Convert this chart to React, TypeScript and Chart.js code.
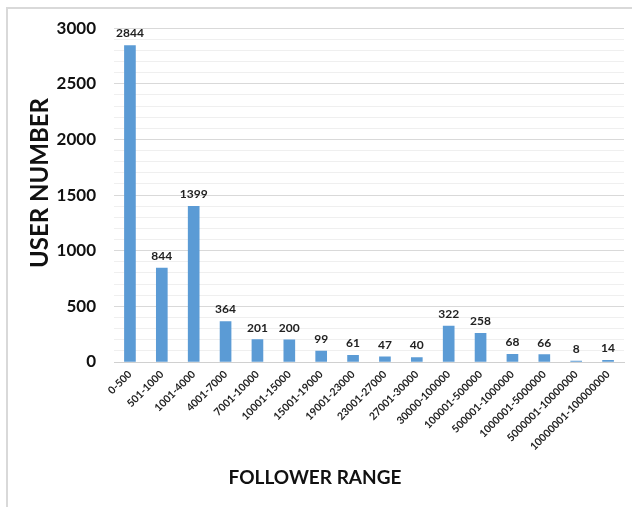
import React, { useEffect, useRef } from "react";
import { Chart, registerables } from "chart.js";

Chart.register(...registerables);

const categories = [
  "0-500", "501-1000", "1001-4000", "4001-7000", "7001-10000", "10001-15000",
  "15001-19000", "19001-23000", "23001-27000", "27001-30000", "30000-100000",
  "100001-500000", "500001-1000000", "1000001-5000000", "5000001-10000000", "10000001-100000000",
];
const userNumbers = [2844, 844, 1399, 364, 201, 200, 99, 61, 47, 40, 322, 258, 68, 66, 8, 14];
const xTitle = "FOLLOWER RANGE";
const yTitle = "USER NUMBER";

const FONT = "Lato, 'Open Sans', sans-serif";

const valueLabels = {
  id: "valueLabels",
  afterDatasetsDraw(chart: any) {
    const ctx = chart.ctx;
    const meta = chart.getDatasetMeta(0);
    ctx.save();
    ctx.font = `bold 12px ${FONT}`;
    ctx.fillStyle = "#222";
    ctx.textAlign = "center";
    ctx.textBaseline = "bottom";
    meta.data.forEach((bar: any, i: number) => {
      ctx.fillText(String(userNumbers[i]), bar.x, bar.y - 6);
    });
    ctx.restore();
  },
};

const axisTitles = {
  id: "axisTitles",
  afterDraw(chart: any) {
    const ctx = chart.ctx;
    ctx.save();
    ctx.fillStyle = "#111";
    ctx.textAlign = "center";
    ctx.textBaseline = "middle";
    ctx.font = `bold 19px ${FONT}`;
    ctx.fillText(xTitle, 315, 478);
    ctx.translate(40, 183);
    ctx.rotate(-Math.PI / 2);
    ctx.font = `bold 24px ${FONT}`;
    ctx.fillText(yTitle, 0, 0);
    ctx.restore();
  },
};

export default function App() {
  const ref = useRef<HTMLCanvasElement>(null);
  useEffect(() => {
    if (!ref.current) return;
    const chart = new Chart(ref.current, {
      type: "bar",
      data: {
        labels: categories,
        datasets: [{ data: userNumbers, backgroundColor: "#5B9BD5", barThickness: 11 }],
      },
      plugins: [valueLabels, axisTitles],
      options: {
        animation: false,
        responsive: false,
        layout: { padding: { left: 23, right: 8, top: 27, bottom: 0 } },
        plugins: { legend: { display: false }, tooltip: { enabled: false } },
        scales: {
          x: {
            grid: { display: false, drawTicks: false },
            border: { display: true, color: "#d0d0d0", width: 1 },
            ticks: {
              color: "#222",
              font: { family: FONT, size: 10.5, weight: "bold" },
              maxRotation: 45,
              minRotation: 45,
              autoSkip: false,
              padding: 6,
            },
            afterFit(scale: any) { scale.height = 145; },
          },
          y: {
            min: 0,
            max: 3000,
            grid: {
              drawTicks: false,
              color: (c: any) => (c.tick && c.tick.value % 500 === 0 ? "#d9d9d9" : "#efefef"),
            },
            border: { display: false },
            ticks: {
              stepSize: 100,
              autoSkip: false,
              padding: 18,
              color: "#111",
              font: { family: FONT, size: 17, weight: "bold" },
              callback: (v: any) => (Number(v) % 500 === 0 ? String(v) : ""),
            },
            afterFit(scale: any) { scale.width = 91; },
          },
        },
      },
    } as any);
    return () => chart.destroy();
  }, []);
  return (
    <div style={{ position: "fixed", left: 0, top: 0, width: 632, height: 507, background: "#fff" }}>
      <div style={{ position: "absolute", left: 6, top: 7, width: 640, height: 520, border: "2px solid #d9d9d9", boxSizing: "border-box" }} />
      <canvas ref={ref} width={632} height={507} style={{ position: "absolute", left: 0, top: 0, width: 632, height: 507 }} />
    </div>
  );
}
